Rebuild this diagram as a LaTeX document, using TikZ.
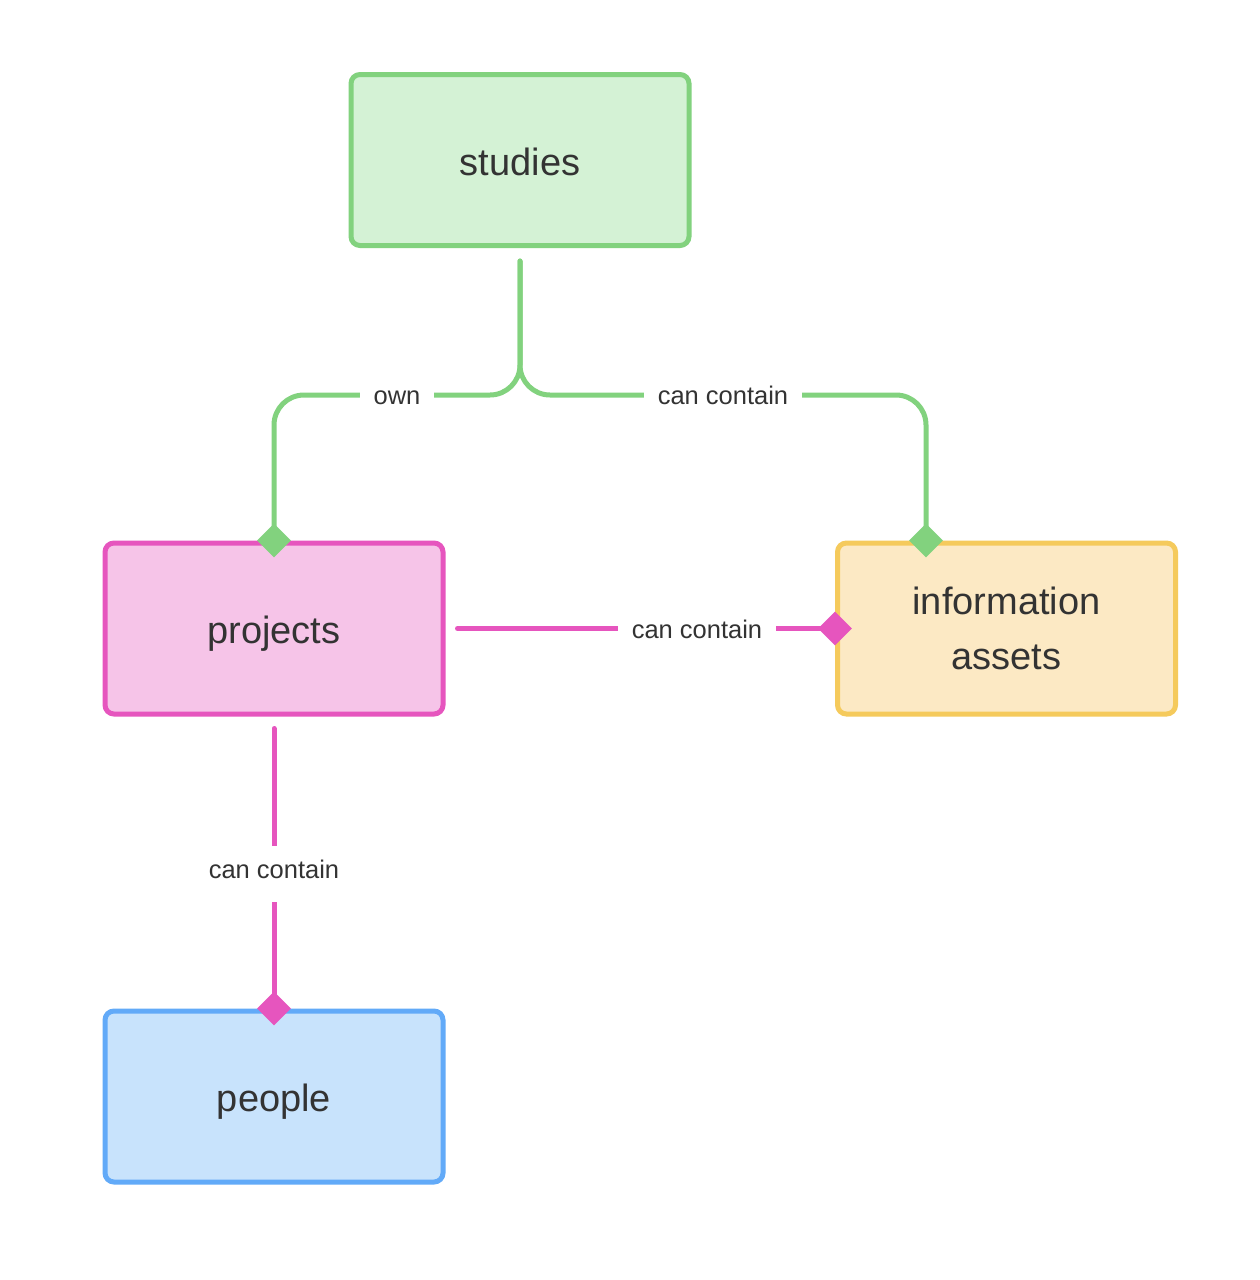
\documentclass[tikz,border=0pt]{standalone}
\usepackage{fontspec}
\setmainfont{Liberation Sans}
\usetikzlibrary{shapes.geometric}
\definecolor{gfill}{HTML}{D4F2D5}
\definecolor{gline}{HTML}{82D27E}
\definecolor{pfill}{HTML}{F6C4E8}
\definecolor{pline}{HTML}{E655BE}
\definecolor{yfill}{HTML}{FCE9C4}
\definecolor{yline}{HTML}{F5CA5C}
\definecolor{bfill}{HTML}{C8E3FC}
\definecolor{bline}{HTML}{62AAF8}
\definecolor{txt}{HTML}{333333}
\tikzset{
  entity/.style={draw, line width=5pt, rounded corners=9pt, minimum width=338pt, minimum height=171pt,
    text=txt, align=center, font=\fontsize{38}{55}\selectfont, inner sep=0pt},
  oneline/.style={text height=30pt, text depth=0pt},
  conn/.style={line width=5pt, line cap=round},
  lbl/.style={fill=white, text=txt, font=\fontsize{25.5}{30}\selectfont, inner xsep=14pt, inner ysep=19pt,
    text height=13pt, text depth=5pt, yshift=-5pt},
  dmd/.style={diamond, inner sep=0pt, minimum width=34pt, minimum height=34pt},
}
\begin{document}
\begin{tikzpicture}[x=1pt, y=-1pt]
\path[use as bounding box, fill=white] (0,0) rectangle (1260,1280);

\node[entity, oneline, fill=gfill, draw=gline] (studies) at (520,160) {studies};
\node[entity, oneline, fill=pfill, draw=pline] (projects) at (274,628.5) {projects};
\node[entity, fill=yfill, draw=yline] (info) at (1006.5,628.5) {information\\assets};
\node[entity, oneline, fill=bfill, draw=bline] (people) at (274,1096.5) {people};

\coordinate (s0) at ([yshift=-13pt]studies.south);
\coordinate (pR) at ([xshift=12pt]projects.east);
\coordinate (pB) at ([yshift=-12pt]projects.south);
\coordinate (iT) at (926,0 |- info.north);

% studies -> projects (own)
\draw[conn, gline, rounded corners=30pt] (s0) -- (s0 |- 0,395) -- (projects.north |- 0,395) -- (projects.north);
% studies -> information assets (can contain)
\draw[conn, gline, rounded corners=30pt] (s0) -- (s0 |- 0,395) -- (iT |- 0,395) -- (iT);
\node[lbl] (lown) at (397,395) {own};
\node[lbl] (lsi) at (723,395) {can contain};

% projects -> information assets
\draw[conn, pline] (pR) -- (info.west);
\node[lbl] (lpi) at (697,629) {can contain};

% projects -> people
\draw[conn, pline] (pB) -- (people.north);
\node[lbl] (lpp) at (274,869) {can contain};

% diamonds
\node[dmd, fill=gline] (d1) at (projects.north) {};
\node[dmd, fill=gline] (d2) at (iT) {};
\node[dmd, fill=pline] (d3) at (info.west) {};
\node[dmd, fill=pline] (d4) at (people.north) {};
\end{tikzpicture}
\end{document}
